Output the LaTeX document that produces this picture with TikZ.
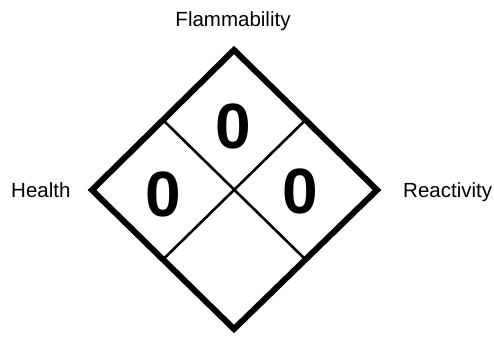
\documentclass[tikz,border=0pt]{standalone}
\usepackage{fontspec}
\setmainfont{Liberation Sans}
\begin{document}
\begin{tikzpicture}[x=1pt,y=-1pt,
  outer/.style={line width=6pt,line join=miter},
  inner/.style={line width=2.6pt},
  lbl/.style={font=\fontsize{20.5}{24}\selectfont,inner sep=0pt},
  digit/.style={font=\fontsize{64}{70}\bfseries\selectfont,inner sep=0pt}]
\useasboundingbox (0,0) rectangle (494,339);
\coordinate (T) at (234,50);
\coordinate (L) at (92,190);
\coordinate (R) at (377,190);
\coordinate (B) at (234,329);
\draw[outer] (T) -- (R) -- (B) -- (L) -- cycle;
\coordinate (mTL) at (163,120);
\coordinate (mTR) at (305.5,120);
\coordinate (mBL) at (163,259.5);
\coordinate (mBR) at (305.5,259.5);
\draw[inner] (mTL) -- (mBR);
\draw[inner] (mTR) -- (mBL);
\node[digit] (flam) at (233,126) {0};
\node[digit] (health) at (163,194) {0};
\node[digit] (react) at (300,191) {0};
\node[lbl,anchor=base] (tflam) at (233,27) {Flammability};
\node[lbl,anchor=base west] (thealth) at (11,197) {Health};
\node[lbl,anchor=base west] (treact) at (403,197) {Reactivity};
\end{tikzpicture}
\end{document}
